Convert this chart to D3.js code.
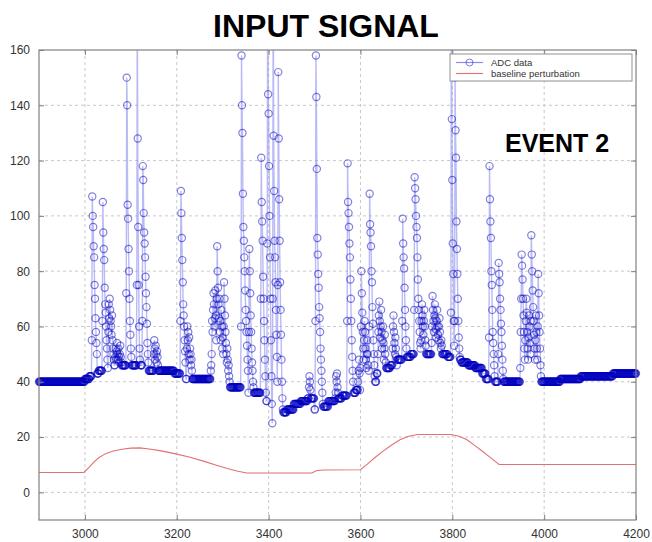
<!DOCTYPE html>
<html>
<head>
<meta charset="utf-8">
<script src="https://cdn.jsdelivr.net/npm/d3@7"></script>
<style>
  body { margin: 0; background: #fff; }
  svg { display: block; }
  text { font-family: "Liberation Sans", Arial, Helvetica, sans-serif; }
</style>
</head>
<body>
<svg id="chart" width="652" height="542"></svg>
<script>
// ---- data ----------------------------------------------------------
// ADC samples: one reading per time unit, starting at sampleStart.
const sampleStart = 2900;

// Quiet-level readings, run-length encoded as [value, count].
const baseRuns = [
  [40,100],[41,10],[42,10],[43,10],[44,15],[45,15],[46,65],[45,5],[44,65],
  [43,20],[41,65],[40,15],[38,50],[37,10],[36,40],[33,5],[25,10],[27,15],
  [29,15],[30,15],[32,15],[33,15],[34,15],[30,15],[31,15],[33,15],[34,15],
  [35,15],[36,15],[37,15],[38,15],[40,15],[43,15],[45,15],[46,15],[48,15],
  [49,15],[50,80],[49,15],[48,15],[47,15],[46,15],[45,15],[43,8],[41,7],
  [40,75],[38,30],[40,50],[41,45],[42,70],[43,51]
];

// Pulse readings: first sample time and the consecutive values.
const pulseStarts = [
  3015, 3038, 3051, 3066, 3090, 3113, 3125, 3150, 3208, 3222, 3274, 3340,
  3357, 3383, 3397, 3409, 3420, 3488, 3502, 3546, 3571, 3595, 3600, 3638,
  3670, 3691, 3717, 3732, 3755, 3797, 3805, 3880, 3900, 3948
];
const pulseValues = [
  [55,107,100,96,89,85,75,70,63,58,54,50],
  [62,105,94,88,84,74,68,65,60,55,52,48],
  [58,68,63,70,66,62,60,57,64,55,52,50,48],
  [49,52,48,51,54,50,48,52,49,47,50,53,49,47],
  [72,150,140,104,99,88,80,70,62,57,52,49],
  [75,185,128,96,75,60,52,48],
  [62,118,113,101,94,90,85,78,72,67,61,54,50,47],
  [50,55,52,48,53,50,47,51,49,46],
  [62,109,101,92,84,76,68,64,60,55,51,47],
  [52,60,55,58,50,56,48,52,50,46,48,44],
  [44,46,50,62,58,66,72,68,60,63,73,64,55,70,89,80,74,68,63,70,58,62,55,66,60,52,56,50,60,76,70,64,58,54,50,47,52,48,44,46,42,40],
  [60,158,140,130,108,96,91,85,80,73,66,62,58,53,48,44],
  [58,88,80,72,64,58,52,47,44,40,38],
  [70,121,105,98,91,78,70,62,55,48,42],
  [90,205,144,137,118,100,85,70,55,42,32,25],
  [70,205,129,109,91,85,76,66,57,49,40],
  [75,152,128,106,91,76,66,57,48,40,34,30],
  [38,42,40,37],
  [62,158,143,117,92,86,79,74,67,63,58,52,48,44,40,36,32],
  [36,42,40,43,38,36],
  [62,119,105,101,96,90,85,77,70,62,55,49,44,40],
  [40,44,48,43],
  [45,60,80,72,65,58,52,48,55,62,58,52,48,45,50,55,50,46,44,60,108,97,94,89,80,76,67,61,55,50,46,42],
  [50,58,64,69,62,56,60,66,58,52,55,60,54,48,52,57,50,47],
  [52,60,64,58,54,50,56,52,49],
  [62,99,90,85,81,74,66,60,55,52],
  [66,114,110,106,100,96,92,85,77,70,66,62,58,54,52],
  [55,62,68,64,60,57,62,66,60,55,53],
  [54,60,71,66,62,58,64,68,63,59,56,62,66,60,57,55,60,63,58,54,52,55,53],
  [65,205,135,113,90,79,62,53],
  [62,150,131,121,98,88,79,70,62,56,52,49],
  [56,118,106,98,92,80,75,66,58,54,50,46,42],
  [50,83,79,76,70,66,61,58,53,48,44,41],
  [45,58,70,86,82,77,70,64,58,52,48,55,62,70,65,58,52,48,56,64,60,54,50,62,93,86,80,73,67,62,57,52,48,55,64,58,52,48,60,79,72,64,58,52,46,42]
];

// Baseline perturbation curve (time, level).
const pertX = [2900,2998,3010,3020,3030,3045,3060,3080,3100,3120,3140,3166,3195,3227,3260,3288,3310,3331,3352,3494,3505,3520,3600,3615,3633,3650,3668,3686,3703,3724,3797,3815,3832,3850,3867,3885,3902,4200];
const pertY = [7.2,7.2,9.2,11,12.5,14,14.9,15.6,16,16.1,15.7,15,14,12.8,11.2,9.7,8.6,7.7,7.0,7.0,7.9,8.1,8.2,10.2,12.8,15,17.1,19,20.2,20.9,20.9,20.3,19,16.8,14.7,12.3,10.1,10.1];

const xTicks = [3000, 3200, 3400, 3600, 3800, 4000, 4200];
const yTicks = [0, 20, 40, 60, 80, 100, 120, 140, 160];
const xDomain = [2900, 4200];
const yDomain = [-10, 160];
const legendLabels = ["ADC data", "baseline perturbation"];

// ---- assemble the ADC series --------------------------------------
const adc = [];
baseRuns.forEach(([v, n]) => { for (let i = 0; i < n; i++) adc.push({ t: sampleStart + adc.length, v }); });
pulseStarts.forEach((s, k) => {
  pulseValues[k].forEach((v, i) => {
    const idx = s - sampleStart + i;
    if (idx >= 0 && idx < adc.length) adc[idx].v = v;
  });
});
const pert = pertX.map((t, i) => ({ t, v: pertY[i] }));

// ---- drawing -------------------------------------------------------
const svg = d3.select("#chart");
const L = 39, R = 636, T = 50, B = 520;
const x = d3.scaleLinear().domain(xDomain).range([L, R]);
const y = d3.scaleLinear().domain(yDomain).range([B, T]);

const adcLine = "#8c8cf0", adcMarker = "#0000c0", pertColor = "#e27070";

svg.append("text")
  .attr("x", 326).attr("y", 37)
  .attr("text-anchor", "middle")
  .attr("font-size", 32).attr("font-weight", "bold")
  .attr("fill", "#000")
  .text("INPUT SIGNAL");

svg.append("rect").attr("x", L).attr("y", T).attr("width", R - L).attr("height", B - T).attr("fill", "#fff");

// dashed grid
const grid = svg.append("g").attr("stroke", "#c8c8c8").attr("stroke-dasharray", "3,3").attr("stroke-width", 1);
xTicks.filter(t => t > xDomain[0] && t < xDomain[1]).forEach(t => {
  grid.append("line").attr("x1", x(t)).attr("x2", x(t)).attr("y1", T).attr("y2", B);
});
yTicks.filter(t => t > yDomain[0] && t < yDomain[1]).forEach(t => {
  grid.append("line").attr("x1", L).attr("x2", R).attr("y1", y(t)).attr("y2", y(t));
});

// data, clipped to the axes box
svg.append("defs").append("clipPath").attr("id", "plotclip")
  .append("rect").attr("x", L - 5).attr("y", T).attr("width", R - L + 10).attr("height", B - T + 5);
const plot = svg.append("g").attr("clip-path", "url(#plotclip)");

const line = d3.line().x(d => x(d.t)).y(d => y(d.v));

plot.append("path").datum(pert)
  .attr("d", line).attr("fill", "none")
  .attr("stroke", pertColor).attr("stroke-width", 1.1);

plot.append("path").datum(adc)
  .attr("d", line).attr("fill", "none")
  .attr("stroke", adcLine).attr("stroke-opacity", 0.6).attr("stroke-width", 1.4);

plot.append("g").selectAll("circle").data(adc).join("circle")
  .attr("cx", d => x(d.t)).attr("cy", d => y(d.v)).attr("r", 3.6)
  .attr("fill", "none").attr("stroke", adcMarker).attr("stroke-opacity", 0.5).attr("stroke-width", 1.2);

// axes frame and inward ticks on all sides
const axisColor = "#808080";
svg.append("rect").attr("x", L).attr("y", T).attr("width", R - L).attr("height", B - T)
  .attr("fill", "none").attr("stroke", axisColor).attr("stroke-width", 1.2);

const xAxis = d3.axisBottom(x).tickValues(xTicks).tickSize(-5).tickPadding(9).tickFormat(d3.format("d"));
const yAxis = d3.axisLeft(y).tickValues(yTicks).tickSize(-5).tickPadding(9).tickFormat(d3.format("d"));

const gx = svg.append("g").attr("transform", `translate(0,${B})`).call(xAxis);
const gy = svg.append("g").attr("transform", `translate(${L},0)`).call(yAxis);
[gx, gy].forEach(g => {
  g.select(".domain").remove();
  g.selectAll(".tick line").attr("stroke", axisColor);
  g.selectAll(".tick text").attr("font-size", 12).attr("fill", "#333")
    .attr("font-family", "'Liberation Sans', Arial, sans-serif");
});
gx.selectAll(".tick text").attr("dy", "0.71em");

const gxTop = svg.append("g").attr("transform", `translate(0,${T})`)
  .call(d3.axisTop(x).tickValues(xTicks).tickSize(-5).tickFormat(""));
const gyRight = svg.append("g").attr("transform", `translate(${R},0)`)
  .call(d3.axisRight(y).tickValues(yTicks).tickSize(-5).tickFormat(""));
[gxTop, gyRight].forEach(g => {
  g.select(".domain").remove();
  g.selectAll(".tick line").attr("stroke", axisColor);
});

// legend
const lg = svg.append("g");
const lx = 450, ly = 54, lw = 182, lh = 27;
lg.append("rect").attr("x", lx).attr("y", ly).attr("width", lw).attr("height", lh)
  .attr("fill", "#fff").attr("stroke", "#909090").attr("stroke-width", 1);
const rowY = [ly + 8.5, ly + 19.5];
lg.append("line").attr("x1", lx + 6).attr("x2", lx + 33).attr("y1", rowY[0]).attr("y2", rowY[0])
  .attr("stroke", adcLine).attr("stroke-width", 1.2);
lg.append("circle").attr("cx", lx + 19.5).attr("cy", rowY[0]).attr("r", 3.5)
  .attr("fill", "none").attr("stroke", adcMarker).attr("stroke-opacity", 0.5);
lg.append("line").attr("x1", lx + 6).attr("x2", lx + 33).attr("y1", rowY[1]).attr("y2", rowY[1])
  .attr("stroke", pertColor).attr("stroke-width", 1.1);
legendLabels.forEach((s, i) => {
  lg.append("text").attr("x", lx + 41).attr("y", rowY[i]).attr("dy", "0.35em")
    .attr("font-size", 9.5).attr("fill", "#333").text(s);
});

svg.append("text")
  .attr("x", 505).attr("y", 152)
  .attr("font-size", 25).attr("font-weight", "bold").attr("fill", "#000")
  .text("EVENT 2");
</script>
</body>
</html>
